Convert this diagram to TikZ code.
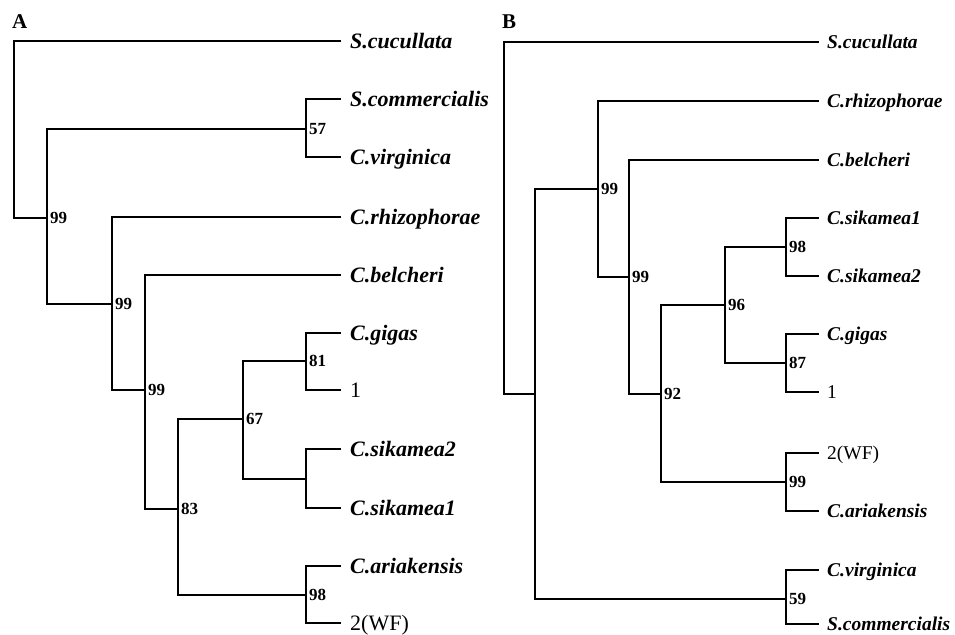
\documentclass[tikz,border=0pt]{standalone}
\usepackage{fontspec}
\setmainfont{Liberation Serif}
\usepackage{tikz}
\usetikzlibrary{positioning}

\begin{document}
\begin{tikzpicture}[
    x=1pt, y=-1pt,
    branch/.style={line width=2.7pt, line cap=rect},
    leaf/.style={
        anchor=west,
        inner xsep=10pt,
        inner ysep=0pt,
        text height=14.5pt,
        text depth=0pt,
        font=\bfseries\itshape\fontsize{22}{22}\selectfont
    },
    tip/.style={
        leaf,
        font=\fontsize{22}{22}\selectfont
    },
    leafb/.style={
        leaf,
        inner xsep=9pt,
        text height=12.9pt,
        font=\bfseries\itshape\fontsize{19.5}{19.5}\selectfont
    },
    tipb/.style={
        leafb,
        font=\fontsize{19.5}{19.5}\selectfont
    },
    boot/.style={
        anchor=west,
        inner xsep=3pt,
        inner ysep=0pt,
        font=\bfseries\fontsize{17}{17}\selectfont
    },
    panel/.style={
        anchor=west,
        inner sep=0pt,
        font=\bfseries\fontsize{21}{21}\selectfont
    }
]
\useasboundingbox (0,0) rectangle (955,634);

% panel A
\node[panel] (labA) at (12,22) {A};

\coordinate (rA)   at (14,130);
\coordinate (a99a) at (47,218);
\coordinate (a57)  at (306,129);
\coordinate (a99b) at (112,304);
\coordinate (a99c) at (145,390);
\coordinate (a83)  at (178,509);
\coordinate (a67)  at (243,419);
\coordinate (a81)  at (306,361);
\coordinate (asik) at (306,479);
\coordinate (a98)  at (306,595);

\node[leaf] (aScuc) at (340,41)  {S.cucullata};
\node[leaf] (aScom) at (340,99)  {S.commercialis};
\node[leaf] (aCvir) at (340,157) {C.virginica};
\node[leaf] (aCrhi) at (340,217) {C.rhizophorae};
\node[leaf] (aCbel) at (340,275) {C.belcheri};
\node[leaf] (aCgig) at (340,333) {C.gigas};
\node[tip]  (aOne)  at (340,390) {1};
\node[leaf] (aCsk2) at (340,449) {C.sikamea2};
\node[leaf] (aCsk1) at (340,508) {C.sikamea1};
\node[leaf] (aCari) at (340,566) {C.ariakensis};
\node[tip]  (aTwo)  at (340,623) {2(WF)};

\node[boot] (ba99a) at (a99a) {99};
\node[boot] (ba57)  at (a57)  {57};
\node[boot] (ba99b) at (a99b) {99};
\node[boot] (ba99c) at (a99c) {99};
\node[boot] (ba83)  at (a83)  {83};
\node[boot] (ba67)  at (a67)  {67};
\node[boot] (ba81)  at (a81)  {81};
\node[boot] (ba98)  at (a98)  {98};

\draw[branch] (rA) |- (aScuc.west);
\draw[branch] (rA) |- (a99a);
\draw[branch] (a99a) |- (a57);
\draw[branch] (a99a) |- (a99b);
\draw[branch] (a57) |- (aScom.west);
\draw[branch] (a57) |- (aCvir.west);
\draw[branch] (a99b) |- (aCrhi.west);
\draw[branch] (a99b) |- (a99c);
\draw[branch] (a99c) |- (aCbel.west);
\draw[branch] (a99c) |- (a83);
\draw[branch] (a83) |- (a67);
\draw[branch] (a83) |- (a98);
\draw[branch] (a67) |- (a81);
\draw[branch] (a67) |- (asik);
\draw[branch] (a81) |- (aCgig.west);
\draw[branch] (a81) |- (aOne.west);
\draw[branch] (asik) |- (aCsk2.west);
\draw[branch] (asik) |- (aCsk1.west);
\draw[branch] (a98) |- (aCari.west);
\draw[branch] (a98) |- (aTwo.west);

% panel B
\node[panel] (labB) at (502,22) {B};

\coordinate (rB)   at (504,218);
\coordinate (bIn)  at (535,394);
\coordinate (b99a) at (598,189);
\coordinate (b99b) at (629,277);
\coordinate (b92)  at (661,394);
\coordinate (b96)  at (725,305);
\coordinate (b98)  at (786,247);
\coordinate (b87)  at (786,363);
\coordinate (b99c) at (786,482);
\coordinate (b59)  at (786,599);

\node[leafb] (bScuc) at (818,42)  {S.cucullata};
\node[leafb] (bCrhi) at (818,101) {C.rhizophorae};
\node[leafb] (bCbel) at (818,160) {C.belcheri};
\node[leafb] (bCsk1) at (818,218) {C.sikamea1};
\node[leafb] (bCsk2) at (818,276) {C.sikamea2};
\node[leafb] (bCgig) at (818,334) {C.gigas};
\node[tipb]  (bOne)  at (818,392) {1};
\node[tipb]  (bTwo)  at (818,453) {2(WF)};
\node[leafb] (bCari) at (818,511) {C.ariakensis};
\node[leafb] (bCvir) at (818,570) {C.virginica};
\node[leafb] (bScom) at (818,624) {S.commercialis};

\node[boot] (bb99a) at (b99a) {99};
\node[boot] (bb99b) at (b99b) {99};
\node[boot] (bb92)  at (b92)  {92};
\node[boot] (bb96)  at (b96)  {96};
\node[boot] (bb98)  at (b98)  {98};
\node[boot] (bb87)  at (b87)  {87};
\node[boot] (bb99c) at (b99c) {99};
\node[boot] (bb59)  at (b59)  {59};

\draw[branch] (rB) |- (bScuc.west);
\draw[branch] (rB) |- (bIn);
\draw[branch] (bIn) |- (b99a);
\draw[branch] (bIn) |- (b59);
\draw[branch] (b99a) |- (bCrhi.west);
\draw[branch] (b99a) |- (b99b);
\draw[branch] (b99b) |- (bCbel.west);
\draw[branch] (b99b) |- (b92);
\draw[branch] (b92) |- (b96);
\draw[branch] (b92) |- (b99c);
\draw[branch] (b96) |- (b98);
\draw[branch] (b96) |- (b87);
\draw[branch] (b98) |- (bCsk1.west);
\draw[branch] (b98) |- (bCsk2.west);
\draw[branch] (b87) |- (bCgig.west);
\draw[branch] (b87) |- (bOne.west);
\draw[branch] (b99c) |- (bTwo.west);
\draw[branch] (b99c) |- (bCari.west);
\draw[branch] (b59) |- (bCvir.west);
\draw[branch] (b59) |- (bScom.west);

\end{tikzpicture}
\end{document}
